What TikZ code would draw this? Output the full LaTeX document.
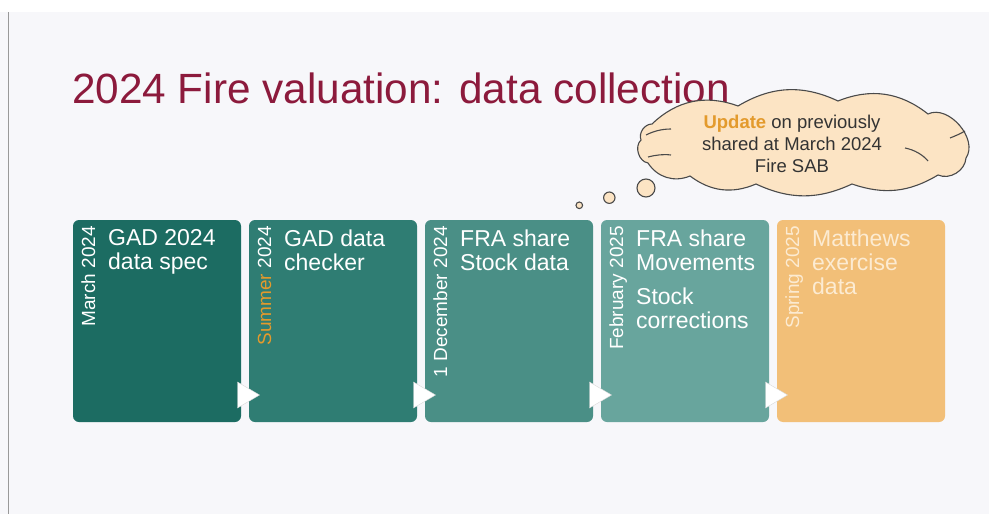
\documentclass[tikz,border=0pt]{standalone}
\usepackage{fontspec}
\setmainfont{Liberation Sans}
\definecolor{pagebg}{HTML}{F7F7FA}
\definecolor{titlered}{HTML}{8C1A3C}
\definecolor{tealA}{HTML}{1C6C62}
\definecolor{tealB}{HTML}{2F7D73}
\definecolor{tealC}{HTML}{4A8F86}
\definecolor{tealD}{HTML}{68A59D}
\definecolor{amber}{HTML}{F2BF78}
\definecolor{accent}{HTML}{E39A2C}
\definecolor{cream}{HTML}{FCEBD2}
\definecolor{cloudfill}{HTML}{FCE4C4}
\definecolor{cloudline}{HTML}{4A4A4A}
\tikzset{
  stagebox/.style={rounded corners=6pt},
  stagetext/.style={anchor=north west, align=left, text=white, inner sep=0pt,
    font=\fontsize{23}{24}\selectfont},
  datetext/.style={rotate=90, anchor=base east, inner sep=0pt, text=white,
    font=\fontsize{19}{20}\selectfont},
  pointer/.style={fill=white, draw=black!15, line width=0.4pt},
  bubble/.style={draw=cloudline, fill=cloudfill, line width=1.1pt},
  curl/.style={draw=cloudline, line width=1.1pt},
  puff/.style={bend left=#1}
}
\begin{document}
\begin{tikzpicture}[x=1pt,y=-1pt]
% page
\fill[white] (0,0) rectangle (989,514);
\fill[pagebg] (0,12) rectangle (989,514);
\useasboundingbox (0,0) rectangle (989,514);
\draw[black!40, line width=1.2pt] (8.5,12) -- (8.5,514);

% title
\node[anchor=base west, inner sep=0pt, text=titlered,
  font=\fontsize{42.3}{44}\selectfont] (title) at (72,103)
  {2024 Fire valuation: data collection};

% stages
\fill[stagebox, tealA] (73,220) rectangle (241,422);
\fill[stagebox, tealB] (249,220) rectangle (417,422);
\fill[stagebox, tealC] (425,220) rectangle (593,422);
\fill[stagebox, tealD] (601,220) rectangle (769,422);
\fill[stagebox, amber] (777,220) rectangle (945,422);

\node[datetext] (d1) at (95,226) {March 2024};
\node[datetext] (d2) at (271,226) {\textcolor{accent}{Summer} 2024};
\node[datetext] (d3) at (447,226) {1 December 2024};
\node[datetext] (d4) at (623,226) {February 2025};
\node[datetext, text=cream] (d5) at (799,226) {Spring 2025};

\node[stagetext] (s1) at (108,229.5) {GAD 2024\\data spec};
\node[stagetext] (s2) at (284,229.5) {GAD data\\checker};
\node[stagetext] (s3) at (460,229.5) {FRA share\\Stock data};
\node[stagetext] (s4) at (636,229.5) {FRA share\\Movements\\[10pt]Stock\\corrections};
\node[stagetext, text=cream] (s5) at (812,229.5) {Matthews\\exercise\\data};

% pointers between stages
\foreach \g in {245,421,597,773}{
  \filldraw[pointer] (\g-7.5,382) -- (\g+14.5,395) -- (\g-7.5,408) -- cycle;
}

% thought cloud, one arc per puff
\filldraw[draw=cloudline, fill=cloudfill, line width=1.1pt]
  (652,124) to[puff=32] (738,106) to[puff=28] (838,101)
  to[puff=30] (928,114) to[puff=75] (966,158) to[puff=55] (938,175)
  to[puff=25] (852,184) to[puff=25] (756,184) to[puff=30] (690,176)
  to[puff=40] (648,163) to[puff=65] (641,140) to[puff=55] (652,124) -- cycle;
\draw[curl] (646,135) .. controls (654,131) and (662,129) .. (671,129);
\draw[curl] (648,157) .. controls (656,155) and (663,154) .. (671,155);
\draw[curl] (950,138) .. controls (955,136) and (960,134) .. (965,131);
\draw[curl] (905,148) .. controls (915,150) and (923,155) .. (928,161);
\node[align=center, inner sep=0pt, text=black!80,
  font=\fontsize{18.5}{22}\selectfont] (note) at (792,144)
  {\textcolor{accent}{\textbf{Update}} on previously\\shared at March 2024\\Fire SAB};
\draw[bubble] (646,188) circle (9);
\draw[bubble] (609.3,197.7) circle (5.7);
\draw[bubble] (579.3,205.3) circle (3.3);
\end{tikzpicture}
\end{document}
